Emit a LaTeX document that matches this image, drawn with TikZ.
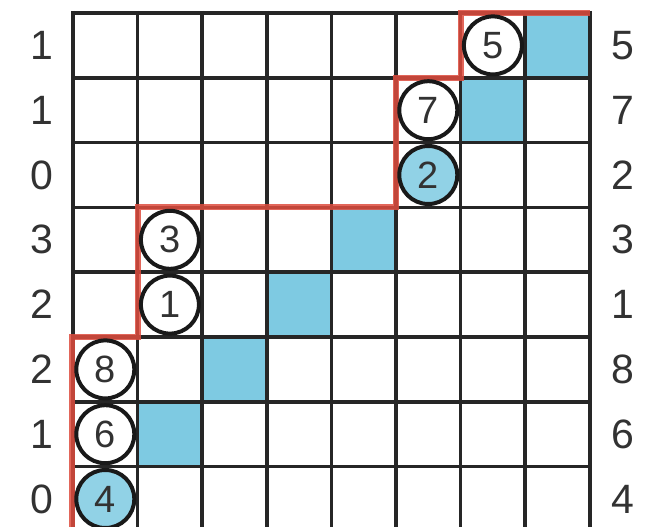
\documentclass[tikz,border=0pt]{standalone}
\usepackage{fontspec}
\setmainfont{Liberation Sans}
\definecolor{cellblue}{RGB}{126,202,226}
\definecolor{gridline}{RGB}{38,38,38}
\definecolor{pathred}{RGB}{222,76,62}
\definecolor{digit}{RGB}{50,50,50}
\tikzset{
  cellfill/.style={fill=cellblue, draw=none},
  gridln/.style={draw=gridline, line width=3.5pt},
  redpath/.style={draw=pathred, line width=6pt, opacity=0.85},
  numcircle/.style={circle, draw=black!90, line width=4pt, fill=white, minimum size=58pt, inner sep=0pt, font=\fontsize{38}{40}\selectfont, text=digit},
  bluecircle/.style={numcircle, fill=cellblue!85!white},
  sidelabel/.style={font=\fontsize{41}{43}\selectfont, text=digit, inner sep=0pt}
}
\begin{document}
\begin{tikzpicture}[x=1pt,y=-1pt]
\path[use as bounding box] (0,0) rectangle (649,527);
\clip (0,0) rectangle (649,527);
\fill[white] (0,0) rectangle (649,527);
% blue cells (row, col)
\foreach \r/\c in {0/7,1/6,3/4,4/3,5/2,6/1}{
  \pgfmathsetmacro{\xa}{73+64.6*\c}
  \pgfmathsetmacro{\ya}{13+64.8*\r}
  \fill[cellfill] (\xa,\ya) rectangle ++(64.6,64.8);
}
% grid
\foreach \k in {0,...,8}{
  \pgfmathsetmacro{\xx}{73+64.6*\k}
  \draw[gridln] (\xx,11) -- (\xx,540);
}
\foreach \k in {0,...,8}{
  \pgfmathsetmacro{\yy}{13+64.8*\k}
  \draw[gridln] (71.25,\yy) -- (591.55,\yy);
}
% red staircase
\draw[redpath, line join=miter] (72,540) -- (72,337) -- (137.6,337) -- (137.6,207.4) -- (396,207.4) -- (396,77.8) -- (460.6,77.8) -- (460.6,13) -- (589.8,13);
% circles
\foreach \r/\c/\n/\s in {0/6/5/numcircle,1/5/7/numcircle,2/5/2/bluecircle,3/1/3/numcircle,4/1/1/numcircle,5/0/8/numcircle,6/0/6/numcircle,7/0/4/bluecircle}{
  \pgfmathsetmacro{\xc}{73+64.6*(\c+0.5)}
  \pgfmathsetmacro{\yc}{13+64.8*(\r+0.5)}
  \node[\s] (c\n) at (\xc,\yc) {\n};
}
% side labels
\foreach \r/\a/\b in {0/1/5,1/1/7,2/0/2,3/3/3,4/2/1,5/2/8,6/1/6,7/0/4}{
  \pgfmathsetmacro{\yc}{13+64.8*(\r+0.5)}
  \node[sidelabel] (L\r) at (42,\yc) {\a};
  \node[sidelabel] (R\r) at (623,\yc) {\b};
}
\end{tikzpicture}
\end{document}
